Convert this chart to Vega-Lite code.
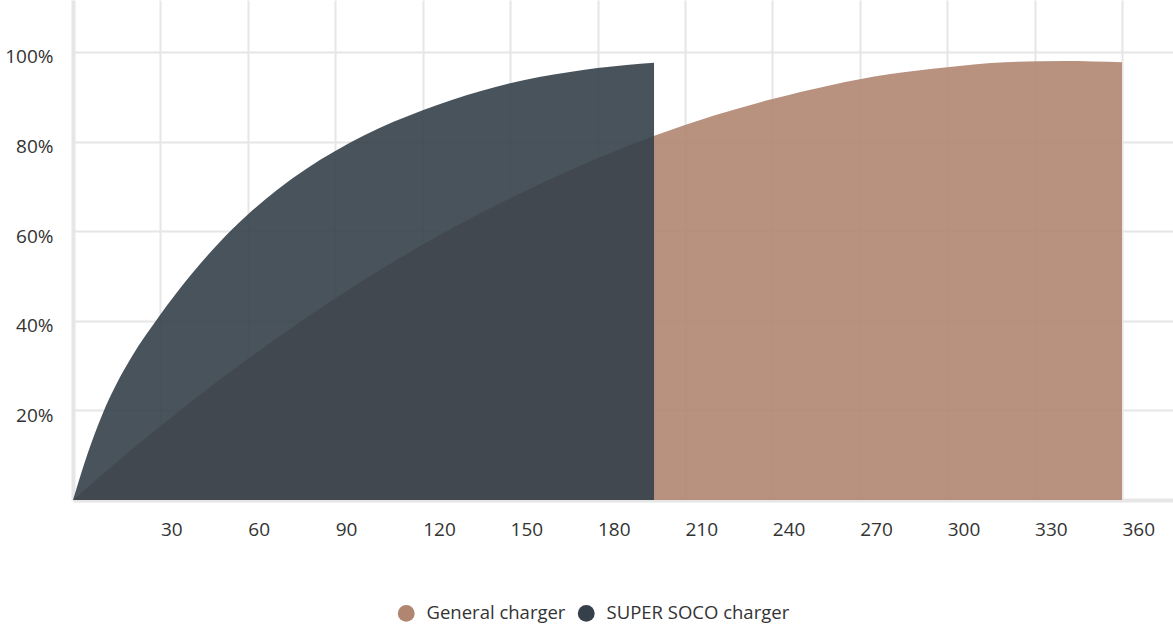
{
  "$schema": "https://vega.github.io/schema/vega-lite/v6.json",
  "width": 1100,
  "height": 500,
  "autosize": {"type": "none"},
  "padding": {"left": 73, "top": 0, "right": 0, "bottom": 127},
  "background": "#ffffff",
  "config": {
    "view": {"stroke": null},
    "font": "Open Sans"
  },
  "data": {
    "values": [
      {"charger": "General charger", "minutes": 0, "pct": 0},
      {"charger": "General charger", "minutes": 20, "pct": 11.2},
      {"charger": "General charger", "minutes": 40, "pct": 21.7},
      {"charger": "General charger", "minutes": 60, "pct": 31.5},
      {"charger": "General charger", "minutes": 80, "pct": 40.7},
      {"charger": "General charger", "minutes": 100, "pct": 49.2},
      {"charger": "General charger", "minutes": 120, "pct": 57.0},
      {"charger": "General charger", "minutes": 140, "pct": 64.1},
      {"charger": "General charger", "minutes": 160, "pct": 70.5},
      {"charger": "General charger", "minutes": 180, "pct": 76.3},
      {"charger": "General charger", "minutes": 200, "pct": 81.4},
      {"charger": "General charger", "minutes": 220, "pct": 85.8},
      {"charger": "General charger", "minutes": 240, "pct": 89.5},
      {"charger": "General charger", "minutes": 260, "pct": 92.6},
      {"charger": "General charger", "minutes": 280, "pct": 95.0},
      {"charger": "General charger", "minutes": 300, "pct": 96.6},
      {"charger": "General charger", "minutes": 320, "pct": 97.7},
      {"charger": "General charger", "minutes": 340, "pct": 98.0},
      {"charger": "General charger", "minutes": 360, "pct": 97.7},
      {"charger": "SUPER SOCO charger", "minutes": 0, "pct": 0},
      {"charger": "SUPER SOCO charger", "minutes": 2.5, "pct": 5.3},
      {"charger": "SUPER SOCO charger", "minutes": 5, "pct": 10.3},
      {"charger": "SUPER SOCO charger", "minutes": 10, "pct": 19.0},
      {"charger": "SUPER SOCO charger", "minutes": 15, "pct": 26.0},
      {"charger": "SUPER SOCO charger", "minutes": 20, "pct": 31.8},
      {"charger": "SUPER SOCO charger", "minutes": 30, "pct": 41.4},
      {"charger": "SUPER SOCO charger", "minutes": 40, "pct": 49.9},
      {"charger": "SUPER SOCO charger", "minutes": 50, "pct": 57.3},
      {"charger": "SUPER SOCO charger", "minutes": 60, "pct": 63.7},
      {"charger": "SUPER SOCO charger", "minutes": 70, "pct": 69.2},
      {"charger": "SUPER SOCO charger", "minutes": 80, "pct": 73.9},
      {"charger": "SUPER SOCO charger", "minutes": 90, "pct": 77.9},
      {"charger": "SUPER SOCO charger", "minutes": 100, "pct": 81.4},
      {"charger": "SUPER SOCO charger", "minutes": 110, "pct": 84.4},
      {"charger": "SUPER SOCO charger", "minutes": 120, "pct": 87.0},
      {"charger": "SUPER SOCO charger", "minutes": 130, "pct": 89.3},
      {"charger": "SUPER SOCO charger", "minutes": 140, "pct": 91.3},
      {"charger": "SUPER SOCO charger", "minutes": 150, "pct": 93.0},
      {"charger": "SUPER SOCO charger", "minutes": 160, "pct": 94.4},
      {"charger": "SUPER SOCO charger", "minutes": 170, "pct": 95.5},
      {"charger": "SUPER SOCO charger", "minutes": 180, "pct": 96.4},
      {"charger": "SUPER SOCO charger", "minutes": 190, "pct": 97.1},
      {"charger": "SUPER SOCO charger", "minutes": 199.4, "pct": 97.6}
    ]
  },
  "mark": {"type": "area", "interpolate": "monotone", "opacity": 0.9},
  "encoding": {
    "x": {
      "field": "minutes",
      "type": "quantitative",
      "scale": {"domain": [0, 377.5], "nice": false, "zero": false},
      "axis": {
        "title": null,
        "values": [30, 60, 90, 120, 150, 180, 210, 240, 270, 300, 330, 360],
        "labelAlign": "left",
        "labelBaseline": "top",
        "labelFontSize": 19,
        "labelColor": "#333333",
        "labelPadding": 20,
        "ticks": false,
        "tickSize": 0,
        "grid": true,
        "gridColor": "#e6e6e6",
        "gridWidth": 2,
        "domainColor": "#e6e6e6",
        "domainWidth": 4,
        "labelFlush": false,
        "labelOverlap": false
      }
    },
    "y": {
      "field": "pct",
      "type": "quantitative",
      "stack": null,
      "scale": {"domain": [0, 111.6], "nice": false},
      "axis": {
        "title": null,
        "values": [20, 40, 60, 80, 100],
        "labelExpr": "datum.value + '%'",
        "labelFontSize": 19,
        "labelColor": "#333333",
        "labelPadding": 20,
        "labelOffset": 5,
        "ticks": false,
        "tickSize": 0,
        "grid": true,
        "gridColor": "#e6e6e6",
        "gridWidth": 2,
        "domainColor": "#e6e6e6",
        "domainWidth": 4,
        "labelFlush": false
      }
    },
    "color": {
      "field": "charger",
      "type": "nominal",
      "scale": {"domain": ["General charger", "SUPER SOCO charger"], "range": ["#b08671", "#35404a"]},
      "legend": {
        "title": null,
        "orient": "none",
        "direction": "horizontal",
        "legendX": 324,
        "legendY": 604,
        "symbolType": "circle",
        "symbolSize": 283,
        "symbolOpacity": 1,
        "symbolStrokeWidth": 0,
        "labelFontSize": 18.5,
        "labelColor": "#333333",
        "labelOffset": 11,
        "labelLimit": 400,
        "columnPadding": 11,
        "padding": 0
      }
    }
  }
}
